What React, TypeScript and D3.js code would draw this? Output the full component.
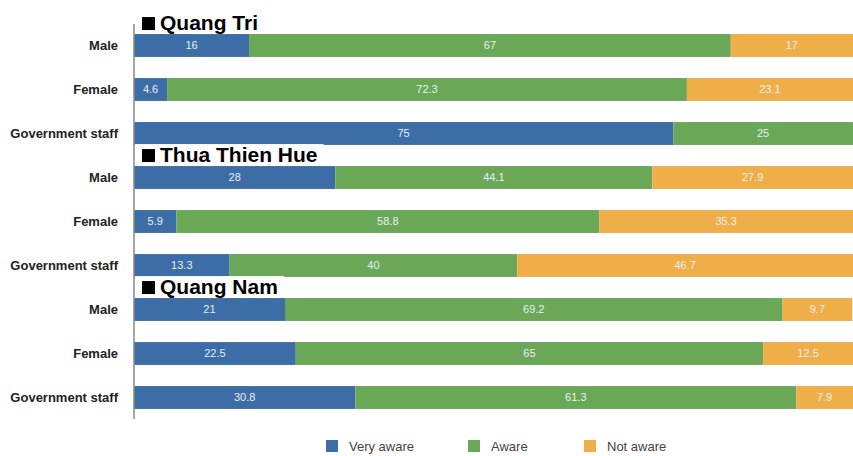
import React, { useEffect, useRef } from "react";
import * as d3 from "d3";

const regions = ["Quang Tri", "Thua Thien Hue", "Quang Nam"];
const groups = ["Male", "Female", "Government staff"];
const series = ["Very aware", "Aware", "Not aware"];
const colors = ["#3c6da6", "#6aa858", "#efae47"];

// values per row: [very aware, aware, not aware]
const veryAware = [16, 4.6, 75, 28, 5.9, 13.3, 21, 22.5, 30.8];
const aware = [67, 72.3, 25, 44.1, 58.8, 40, 69.2, 65, 61.3];
const notAware = [17, 23.1, 0, 27.9, 35.3, 46.7, 9.7, 12.5, 7.9];

const W = 853;
const H = 456;

const App = () => {
  const svgRef = useRef<SVGSVGElement>(null);

  useEffect(() => {
    const svg = d3.select(svgRef.current);
    svg.selectAll("*").remove();

    const rows = veryAware.map((v, i) => ({
      key: i,
      label: groups[i % 3],
      values: [v, aware[i], notAware[i]],
    }));

    const x = d3.scaleLinear().domain([0, 100]).range([134, 853]);
    const y = d3
      .scaleBand<number>()
      .domain(rows.map((r) => r.key))
      .range([23.5, 419.5])
      .paddingInner(0.48)
      .paddingOuter(0.24);

    const font = "'Liberation Sans', Arial, sans-serif";

    // bars
    rows.forEach((r) => {
      let start = 0;
      const g = svg.append("g");
      r.values.forEach((v, si) => {
        if (v <= 0) return;
        g.append("rect")
          .attr("x", x(start))
          .attr("y", y(r.key)!)
          .attr("width", x(start + v) - x(start))
          .attr("height", y.bandwidth())
          .attr("fill", colors[si]);
        g.append("text")
          .attr("x", (x(start) + x(start + v)) / 2)
          .attr("y", y(r.key)! + y.bandwidth() / 2)
          .attr("dy", "0.35em")
          .attr("text-anchor", "middle")
          .attr("font-family", font)
          .attr("font-size", 11)
          .attr("fill", "#e8eef5")
          .text(v);
        start += v;
      });

      svg
        .append("text")
        .attr("x", 118)
        .attr("y", y(r.key)! + y.bandwidth() / 2)
        .attr("dy", "0.35em")
        .attr("text-anchor", "end")
        .attr("font-family", font)
        .attr("font-weight", "bold")
        .attr("font-size", 13)
        .attr("fill", "#222")
        .text(r.label);
    });

    // axis line
    svg
      .append("line")
      .attr("x1", 134)
      .attr("x2", 134)
      .attr("y1", 24)
      .attr("y2", 419)
      .attr("stroke", "#888")
      .attr("stroke-width", 1.5);

    // region headers
    regions.forEach((name, i) => {
      const top = y(i * 3)! - 23;
      const g = svg.append("g");
      const t = g
        .append("text")
        .attr("x", 160)
        .attr("y", top + 18.5)
        .attr("font-family", font)
        .attr("font-weight", "bold")
        .attr("font-size", 21)
        .attr("fill", "#000")
        .text(name);
      const tw = (t.node() as SVGTextElement).getComputedTextLength();
      g.insert("rect", "text")
        .attr("x", 135)
        .attr("y", top + 1)
        .attr("width", tw + 31)
        .attr("height", 21)
        .attr("fill", "#fff");
      g.append("rect")
        .attr("x", 142)
        .attr("y", top + 6)
        .attr("width", 13)
        .attr("height", 13)
        .attr("fill", "#000");
    });

    // legend
    const legendX = [326, 468, 584];
    series.forEach((s, i) => {
      svg
        .append("rect")
        .attr("x", legendX[i])
        .attr("y", 440)
        .attr("width", 12)
        .attr("height", 12)
        .attr("fill", colors[i]);
      svg
        .append("text")
        .attr("x", legendX[i] + 23)
        .attr("y", 446)
        .attr("dy", "0.35em")
        .attr("font-family", font)
        .attr("font-size", 13)
        .attr("fill", "#444")
        .text(s);
    });
  }, []);

  return (
    <svg
      ref={svgRef}
      width={W}
      height={H}
      style={{ position: "absolute", left: 0, top: 0, background: "#fff" }}
    />
  );
};

export default App;
